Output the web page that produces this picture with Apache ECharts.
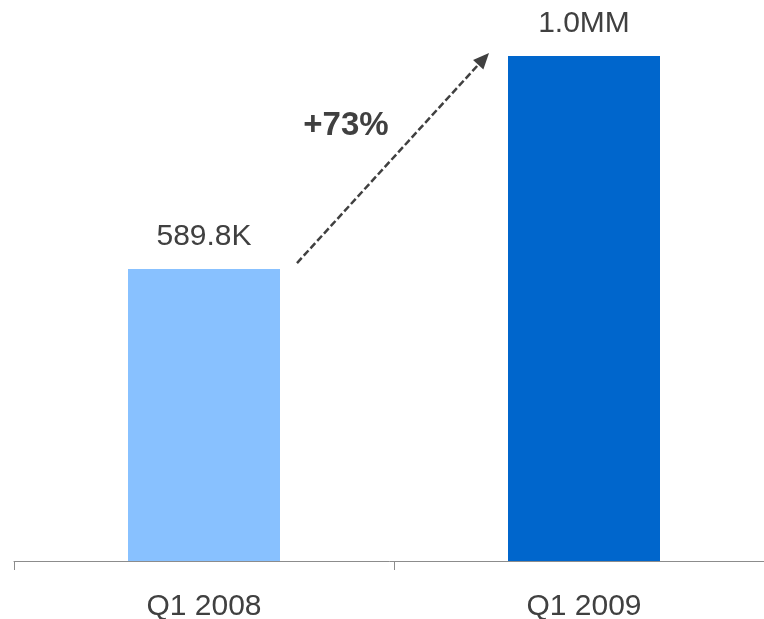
<!DOCTYPE html>
<html>
<head>
<meta charset="utf-8">
<script src="https://cdn.jsdelivr.net/npm/echarts@6/dist/echarts.min.js"></script>
<style>
  html, body { margin: 0; padding: 0; background: #fff; }
  #chart { width: 764px; height: 619px; }
</style>
</head>
<body>
<div id="chart"></div>
<script>
// Quarterly totals (in thousands)
const categories = ['Q1 2008', 'Q1 2009'];
const values = [589.8, 1020.3];
const barColors = ['#88C1FF', '#0066CC'];
const growthLabel = '+73%';

function formatValue(v) {
  return v >= 1000 ? (v / 1000).toFixed(1) + 'MM' : v.toFixed(1) + 'K';
}

const chart = echarts.init(document.getElementById('chart'));
const textColor = '#404040';
const fontFamily = 'Liberation Sans, Arial, sans-serif';

chart.setOption({
  animation: false,
  grid: { left: 14, width: 760, top: 56, bottom: 58, outerBoundsMode: 'none', containLabel: false },
  xAxis: {
    type: 'category',
    data: categories,
    axisLine: { lineStyle: { color: '#8c8c8c', width: 1 } },
    axisTick: { show: true, length: 9, lineStyle: { color: '#8c8c8c' } },
    axisLabel: { color: textColor, fontSize: 30, fontFamily: fontFamily, margin: 31 }
  },
  yAxis: {
    type: 'value',
    min: 0,
    max: 1020.3,
    show: false,
    splitLine: { show: false }
  },
  series: [{
    type: 'bar',
    barWidth: '40%',
    data: values.map((v, i) => ({ value: v, itemStyle: { color: barColors[i] } })),
    label: {
      show: true,
      position: 'top',
      distance: 17,
      color: textColor,
      fontSize: 30,
      fontFamily: fontFamily,
      formatter: p => formatValue(p.value)
    }
  }]
});

// Dashed growth arrow between the two bar tops
const p1 = chart.convertToPixel({ seriesIndex: 0 }, [0, values[0]]);
const p2 = chart.convertToPixel({ seriesIndex: 0 }, [1, values[1]]);
const x1 = p1[0] + 93, y1 = p1[1] - 6;
const x2 = p2[0] - 95, y2 = p2[1] - 3;
const ang = Math.atan2(y2 - y1, x2 - x1);
const headLen = 16, headW = 7;
const bx = x2 - headLen * Math.cos(ang), by = y2 - headLen * Math.sin(ang);
const nx = -Math.sin(ang), ny = Math.cos(ang);

chart.setOption({
  graphic: [
    {
      type: 'line',
      shape: { x1: x1, y1: y1, x2: bx, y2: by },
      style: { stroke: textColor, lineWidth: 2.5, lineDash: [7, 3] }
    },
    {
      type: 'polygon',
      shape: { points: [[x2, y2], [bx + nx * headW, by + ny * headW], [bx - nx * headW, by - ny * headW]] },
      style: { fill: textColor }
    },
    {
      type: 'text',
      x: (x1 + x2) / 2 - 47,
      y: (y1 + y2) / 2 - 32,
      style: {
        text: growthLabel,
        fill: textColor,
        font: 'bold 33px ' + fontFamily,
        textAlign: 'center',
        textVerticalAlign: 'middle'
      }
    }
  ]
});
</script>
</body>
</html>
